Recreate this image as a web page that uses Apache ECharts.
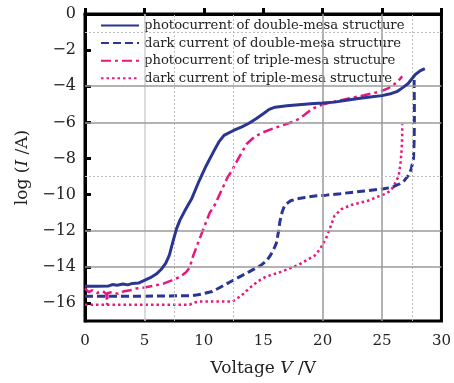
<!DOCTYPE html>
<html><head><meta charset="utf-8">
<script src="https://cdn.jsdelivr.net/npm/echarts@6/dist/echarts.min.js"></script>
<style>html,body{margin:0;padding:0;background:#fff}#c{width:454px;height:383px}</style>
</head><body><div id="c"></div>
<script>
// Series names
const seriesNames = [
  'photocurrent of double-mesa structure',
  'dark current of double-mesa structure',
  'photocurrent of triple-mesa structure',
  'dark current of triple-mesa structure'
];
// [Voltage V, log(I/A)]
const photoDouble = [[0,-15.08],[1,-15.08],[2,-15.06],[2.3,-14.98],[2.7,-15.02],[3.2,-14.95],[3.6,-15.0],[4,-14.92],[4.5,-14.9],[5,-14.75],[5.5,-14.6],[6,-14.4],[6.4,-14.15],[6.8,-13.8],[7.1,-13.35],[7.4,-12.6],[7.7,-11.9],[8.0,-11.4],[8.4,-10.9],[9.0,-10.2],[9.6,-9.25],[10.2,-8.4],[10.8,-7.65],[11.3,-7.05],[11.7,-6.72],[12.5,-6.45],[13.2,-6.25],[13.8,-6.05],[14.4,-5.8],[15.0,-5.52],[15.5,-5.28],[16.0,-5.16],[17,-5.08],[18,-5.02],[19,-4.97],[20,-4.93],[21,-4.88],[22,-4.78],[23,-4.68],[24,-4.6],[25,-4.52],[25.8,-4.4],[26.3,-4.28],[26.8,-4.05],[27.2,-3.85],[27.5,-3.6],[27.8,-3.35],[28.2,-3.15],[28.6,-3.02]];
const darkDouble = [[0,-15.63],[3,-15.63],[6,-15.62],[9,-15.6],[9.5,-15.55],[10.0,-15.48],[10.7,-15.37],[11.2,-15.2],[11.7,-15.02],[12.7,-14.66],[13.8,-14.28],[14.8,-13.92],[15.3,-13.65],[15.6,-13.37],[15.9,-13.0],[16.1,-12.7],[16.3,-12.0],[16.4,-11.5],[16.6,-10.95],[16.8,-10.6],[17.3,-10.34],[18.0,-10.22],[18.5,-10.16],[19.5,-10.07],[20.3,-10.03],[21.5,-9.95],[22.4,-9.88],[23.5,-9.8],[24.9,-9.7],[25.5,-9.63],[26.0,-9.55],[26.5,-9.4],[26.85,-9.24],[27.2,-8.95],[27.45,-8.6],[27.65,-8.0],[27.7,-7.0],[27.72,-6.0],[27.72,-5.0],[27.7,-4.0],[27.7,-3.45]];
const photoTriple = [[0,-15.2],[0.3,-15.4],[0.6,-15.3],[1,-15.45],[1.5,-15.35],[1.8,-15.5],[1.85,-16.1],[1.9,-15.45],[2.3,-15.4],[2.8,-15.5],[3.3,-15.35],[3.8,-15.3],[4.3,-15.2],[5,-15.15],[5.8,-15.05],[6.6,-14.93],[7.3,-14.75],[8.0,-14.55],[8.5,-14.3],[8.8,-14.05],[9.1,-13.4],[9.5,-12.7],[10.0,-11.85],[10.5,-11.0],[10.9,-10.6],[11.5,-9.75],[12.0,-9.04],[12.3,-8.75],[12.7,-8.25],[13.2,-7.66],[13.6,-7.2],[14.3,-6.78],[15.0,-6.55],[16.0,-6.3],[17.0,-6.08],[17.7,-5.93],[18.4,-5.62],[19.05,-5.29],[19.6,-5.1],[20.0,-5.01],[21,-4.85],[22.4,-4.65],[23.5,-4.5],[24.9,-4.28],[25.5,-4.12],[26.0,-3.91],[26.4,-3.68],[26.7,-3.45]];
const darkTriple = [[0,-16.1],[4,-16.1],[8.8,-16.1],[9.2,-15.98],[9.6,-15.92],[12.4,-15.92],[12.8,-15.75],[13.2,-15.57],[13.8,-15.2],[14.5,-14.83],[15.2,-14.55],[16.0,-14.38],[16.5,-14.28],[18.0,-13.88],[19.35,-13.37],[19.8,-13.0],[20.3,-12.4],[20.6,-11.9],[21.0,-11.17],[21.6,-10.8],[22.4,-10.58],[23.8,-10.34],[25.2,-9.97],[25.7,-9.8],[26.0,-9.51],[26.4,-8.96],[26.55,-8.3],[26.65,-7.5],[26.7,-6.7],[26.7,-6.1]];
// Axis ticks
const yTicks = [-16,-14,-12,-10,-8,-6,-4,-2,0];
const xTicks = [0,5,10,15,20,25,30];
// Reference grid lines in the original figure
const solidGridX = [5,20,25];
const dottedGridX = [7.5,12.5,27.5];
const solidGridY = [-4,-6,-12,-14];
const dottedGridY = [-1,-9];

const FONT = 'DejaVu Serif';
const BLUE = '#2b3593';
const PINK = '#e8177d';

const gridLines = [];
solidGridX.forEach(v => gridLines.push({xAxis: v, lineStyle: {color: v===5 ? '#cfcfcf' : '#9a9a9a', width: 1.5, type: 'solid'}}));
dottedGridX.forEach(v => gridLines.push({xAxis: v, lineStyle: {color: '#bdbdbd', width: 1, type: [2,2]}}));
solidGridY.forEach(v => gridLines.push({yAxis: v, lineStyle: {color: '#9a9a9a', width: 1.5, type: 'solid'}}));
dottedGridY.forEach(v => gridLines.push({yAxis: v, lineStyle: {color: '#bdbdbd', width: 1, type: [2,2]}}));

const chart = echarts.init(document.getElementById('c'), null, {renderer: 'canvas'});
chart.setOption({
  animation: false,
  backgroundColor: '#fff',
  grid: {left: 85, right: 10, top: 14, bottom: 62, show: true, borderColor: '#000', borderWidth: 3, backgroundColor: 'transparent'},
  legend: {
    orient: 'vertical', left: 95, top: 14, itemWidth: 38, itemHeight: 10, itemGap: 4.6,
    data: seriesNames,
    itemStyle: {color: 'transparent', borderWidth: 0, opacity: 0},
    textStyle: {fontFamily: FONT, fontSize: 13.2, color: '#222'}
  },
  xAxis: {
    type: 'value', min: 0, max: 30, interval: 5,
    name: '{n|Voltage }{i|V}{n| /V}', nameLocation: 'middle', nameGap: 39,
    nameTextStyle: {rich: {n: {fontFamily: FONT, fontSize: 17, color: '#222'}, i: {fontFamily: FONT, fontStyle: 'italic', fontSize: 17, color: '#222'}}},
    axisLine: {lineStyle: {color: '#000', width: 3}},
    axisTick: {inside: true, length: 6, lineStyle: {color: '#000', width: 3}},
    axisLabel: {fontFamily: FONT, fontSize: 15, color: '#222', margin: 13},
    splitLine: {show: false}
  },
  yAxis: {
    type: 'value', min: -17, max: 0,
    name: '{n|log (}{i|I}{n| /A)}', nameLocation: 'middle', nameGap: 52, nameRotate: 90,
    nameTextStyle: {rich: {n: {fontFamily: FONT, fontSize: 17, color: '#222'}, i: {fontFamily: FONT, fontStyle: 'italic', fontSize: 17, color: '#222'}}},
    axisLine: {lineStyle: {color: '#000', width: 3}},
    axisTick: {inside: true, length: 6, customValues: yTicks, lineStyle: {color: '#000', width: 3}},
    axisLabel: {customValues: yTicks, fontFamily: FONT, fontSize: 16, color: '#222', margin: 9,
      formatter: v => v === 0 ? '0' : '\u2212' + Math.abs(v)},
    splitLine: {show: false}
  },
  series: [
    {type: 'line', name: '__grid', data: [], z: 1, silent: true,
      markLine: {silent: true, symbol: 'none', label: {show: false}, animation: false, data: gridLines}},
    {type: 'line', name: seriesNames[0], data: photoDouble, showSymbol: false, symbol: 'none', z: 5,
      lineStyle: {color: BLUE, width: 3}, itemStyle: {color: BLUE}},
    {type: 'line', name: seriesNames[1], data: darkDouble, showSymbol: false, symbol: 'none', z: 4,
      lineStyle: {color: BLUE, width: 3, type: [8,4]}, itemStyle: {color: BLUE}},
    {type: 'line', name: seriesNames[2], data: photoTriple, showSymbol: false, symbol: 'none', z: 4,
      lineStyle: {color: PINK, width: 2.5, type: [10,4,3,4]}, itemStyle: {color: PINK}},
    {type: 'line', name: seriesNames[3], data: darkTriple, showSymbol: false, symbol: 'none', z: 3,
      lineStyle: {color: PINK, width: 2.5, type: [2.5,3]}, itemStyle: {color: PINK}}
  ]
});
</script></body></html>
